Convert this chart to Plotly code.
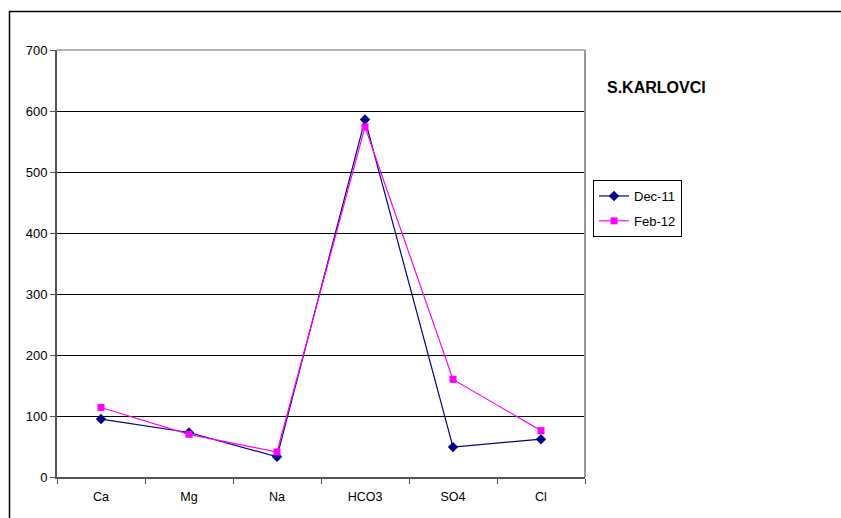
import plotly.graph_objects as go

categories = ["Ca", "Mg", "Na", "HCO3", "SO4", "Cl"]
dec_11 = [95, 73, 33, 586, 49, 62]
feb_12 = [114, 70, 41, 574, 160, 76]
y_ticks = [0, 100, 200, 300, 400, 500, 600, 700]

W, H = 841, 518
L, R, T, B = 57, 585, 50, 477
pw, ph = R - L, B - T

def px(x):
    return (x - L) / pw

def py(y):
    return (B - y) / ph

FAM = "Liberation Sans, Arial, sans-serif"

fig = go.Figure()
fig.add_trace(go.Scatter(
    x=categories, y=dec_11, name="Dec-11", mode="lines+markers",
    legendgroup="a",
    line=dict(color="#000080", width=1.2),
    marker=dict(symbol="diamond", size=8, color="#000080"),
))
fig.add_trace(go.Scatter(
    x=categories, y=feb_12, name="Feb-12", mode="lines+markers",
    legendgroup="b",
    line=dict(color="#FF00FF", width=1.2),
    marker=dict(symbol="square", size=7, color="#FF00FF"),
))

fig.update_layout(
    width=W, height=H,
    margin=dict(l=L, r=W - R, t=T, b=H - B, pad=0),
    paper_bgcolor="white", plot_bgcolor="white",
    font=dict(family=FAM, size=12, color="black"),
    showlegend=True,
    legend=dict(
        x=px(593), y=py(180), xanchor="left", yanchor="top",
        bordercolor="black", borderwidth=1, bgcolor="white",
        font=dict(family=FAM, size=13, color="black"),
        itemwidth=30, tracegroupgap=5,
    ),
    xaxis=dict(
        type="category", tickson="boundaries",
        showgrid=False, showline=True, linecolor="#555555", linewidth=2,
        ticks="outside", ticklen=5, tickcolor="#555555", tickwidth=1,
        range=[-0.5, 5.5], fixedrange=True,
        ticklabelstandoff=7,
        tickfont=dict(family=FAM, size=12.5, color="black"),
    ),
    yaxis=dict(
        range=[0, 700], tickvals=y_ticks,
        showgrid=True, gridcolor="black", gridwidth=1,
        showline=True, linecolor="#555555", linewidth=2,
        ticks="outside", ticklen=5, tickcolor="#555555",
        zeroline=False,
        tickfont=dict(family=FAM, size=13, color="black"),
    ),
    annotations=[dict(
        text="<b>S.KARLOVCI</b>", xref="paper", yref="paper",
        x=px(605), y=py(87), xanchor="left", yanchor="middle",
        showarrow=False,
        font=dict(family=FAM, size=16, color="black"),
    )],
    shapes=[
        # outer chart border (partly cut off)
        dict(type="rect", xref="paper", yref="paper",
             x0=px(9.5), x1=px(860), y0=py(540), y1=py(11.5),
             line=dict(color="black", width=1.5), layer="below"),
        # plot area border, top and right (gray)
        dict(type="line", xref="paper", yref="paper",
             x0=0, x1=1, y0=1, y1=1, line=dict(color="#9a9a9a", width=1.5)),
        dict(type="line", xref="paper", yref="paper",
             x0=1, x1=1, y0=0, y1=1, line=dict(color="#9a9a9a", width=2)),
    ],
)

fig.write_html("out.html")
